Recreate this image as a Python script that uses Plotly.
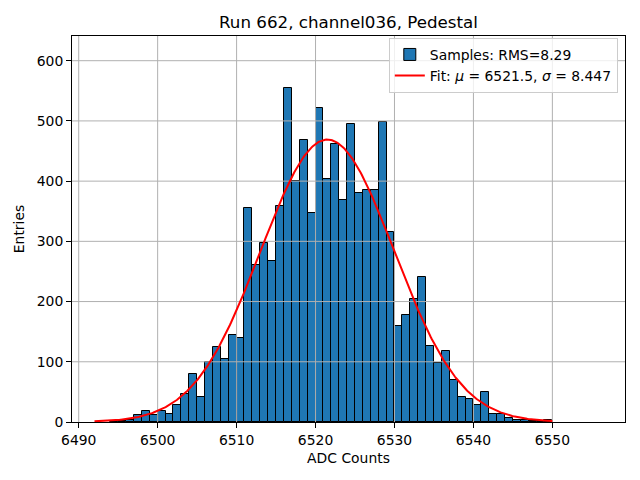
import numpy as np
import plotly.graph_objects as go

# Histogram of pedestal samples (bin width 1 ADC count, left edges)
bin_start = 6494
counts = [1, 1, 3, 11, 19, 12, 19, 14, 29, 47,
          80, 42, 99, 125, 105, 145, 140, 355, 260, 297,
          268, 359, 554, 400, 468, 347, 521, 403, 462, 368,
          495, 380, 385, 385, 498, 315, 160, 177, 205, 241,
          126, 98, 118, 70, 42, 38, 28, 49, 14, 13,
          7, 3, 4, 2, 2, 4]
bin_left = [bin_start + i for i in range(len(counts))]

# Gaussian fit parameters (from the legend)
fit_mu = 6521.5
fit_sigma = 8.447
fit_amp = 469
fit_xmin, fit_xmax = 6492, 6550
rms = 8.29

x_ticks = [6490, 6500, 6510, 6520, 6530, 6540, 6550]
y_ticks = [0, 100, 200, 300, 400, 500, 600]
x_range = [6489.15, 6559.2]
y_range = [0, 641]

font = "DejaVu Sans"

fx = np.linspace(fit_xmin, fit_xmax, 400)
fy = fit_amp * np.exp(-0.5 * ((fx - fit_mu) / fit_sigma) ** 2)

# grid drawn as a trace so it sits over the bars but under the fit line (matplotlib style)
gx, gy = [], []
for t in x_ticks:
    gx += [t, t, None]
    gy += [y_range[0], y_range[1], None]
for t in y_ticks[1:]:
    gx += [x_range[0], x_range[1], None]
    gy += [t, t, None]

fig = go.Figure()
fig.add_trace(go.Bar(
    x=[b + 0.5 for b in bin_left], y=counts, width=1,
    marker=dict(color="#1f77b4", line=dict(color="black", width=1)),
    name=f"Samples: RMS={rms:.2f}",
))
fig.add_trace(go.Scatter(
    x=gx, y=gy, mode="lines", line=dict(color="#b0b0b0", width=1),
    showlegend=False, hoverinfo="skip",
))
fig.add_trace(go.Scatter(
    x=fx, y=fy, mode="lines", line=dict(color="red", width=2),
    name=f"Fit: <i>μ</i> = {fit_mu:.1f}, <i>σ</i> = {fit_sigma:.3f}",
))

axis_common = dict(
    showgrid=False, zeroline=False, showline=True, mirror=True,
    linecolor="black", linewidth=1, ticks="outside", ticklen=5,
    tickwidth=1, tickcolor="black",
    tickfont=dict(family=font, size=13.9, color="black"),
)

# page body adds an 8px offset, so the figure is 8px smaller and margins shifted
W, H = 632, 472
fig.update_layout(
    width=W, height=H,
    paper_bgcolor="white", plot_bgcolor="white",
    margin=dict(l=64, r=15, t=28, b=58),
    bargap=0,
    font=dict(family=font, color="black"),
    title=dict(text="Run 662, channel036, Pedestal", x=0.5, xref="paper",
               y=1 - 14 / H, yref="container", yanchor="middle",
               font=dict(family=font, size=16.7, color="black")),
    xaxis=dict(axis_common, range=x_range, tickvals=x_ticks,
               title=dict(text="ADC Counts", standoff=6,
                          font=dict(family=font, size=13.9))),
    yaxis=dict(axis_common, range=y_range, tickvals=y_ticks,
               title=dict(text="Entries", standoff=8,
                          font=dict(family=font, size=13.9))),
    legend=dict(x=0.987, y=0.995, xanchor="right", yanchor="top",
                bgcolor="rgba(255,255,255,0.8)", bordercolor="#cccccc",
                borderwidth=1, font=dict(family=font, size=13.9),
                itemwidth=30),
    showlegend=True,
)

fig.write_html("out.html")
